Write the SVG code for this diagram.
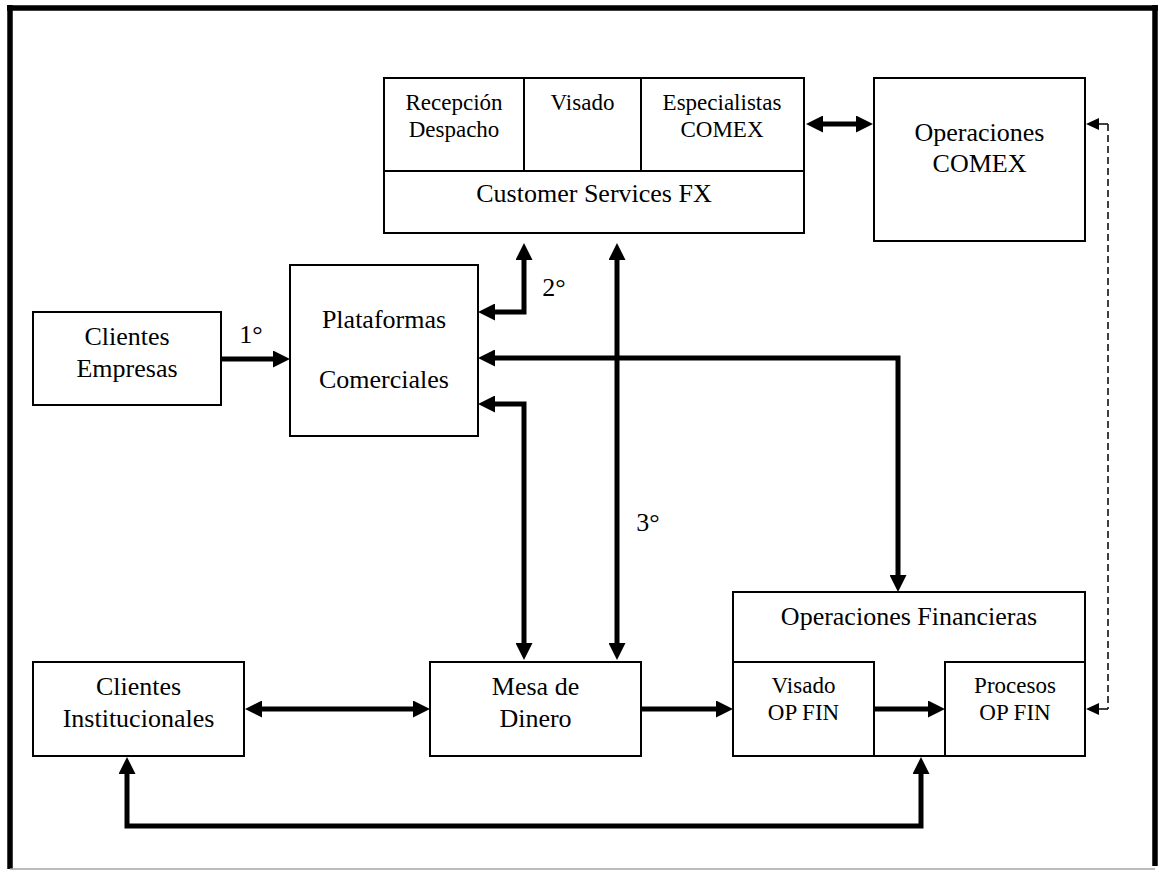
<svg xmlns="http://www.w3.org/2000/svg" width="1164" height="870" viewBox="0 0 1164 870">
<style>
.box{fill:#fff;stroke:#000;stroke-width:2}
.div{fill:none;stroke:#000;stroke-width:2}
.t{font-family:"Liberation Serif","Times New Roman",serif;fill:#000;text-anchor:middle}
.f26{font-size:26px}
.f23{font-size:23px}
.c{fill:none;stroke:#000;stroke-width:5;stroke-linejoin:miter}
.cb{stroke-width:5}
.d{fill:none;stroke:#000;stroke-width:1.5}
</style>
<defs>
<marker id="ah" viewBox="0 0 17 17" refX="0" refY="8.5" markerWidth="17" markerHeight="17" markerUnits="userSpaceOnUse" orient="auto-start-reverse">
<path d="M0,0 L17,8.5 L0,17 z" fill="#000"/>
</marker>
<marker id="sh" viewBox="0 0 13 12" refX="0" refY="6" markerWidth="13" markerHeight="12" markerUnits="userSpaceOnUse" orient="auto-start-reverse">
<path d="M0,0 L13,6 L0,12 z" fill="#000"/>
</marker>
</defs>
<rect x="0" y="0" width="1164" height="870" fill="#fff"/>
<g id="frame">
<line x1="7" y1="8" x2="1158" y2="8" stroke="#000" stroke-width="5.5"/>
<line x1="10" y1="5" x2="10" y2="869" stroke="#000" stroke-width="5.5"/>
<line x1="1155" y1="5" x2="1155" y2="866" stroke="#000" stroke-width="5.5"/>
<line x1="10" y1="869" x2="1155" y2="869" stroke="#a6a6a6" stroke-width="1.5"/>
</g>
<g id="customer-services">
<rect class="box" x="384" y="78" width="420" height="155"/>
<line class="div" x1="384" y1="171" x2="804" y2="171"/>
<line class="div" x1="524" y1="78" x2="524" y2="171"/>
<line class="div" x1="641" y1="78" x2="641" y2="171"/>
<text class="t f23" x="454" y="110">Recepción</text>
<text class="t f23" x="454" y="137">Despacho</text>
<text class="t f23" x="582.5" y="110">Visado</text>
<text class="t f23" x="722" y="110">Especialistas</text>
<text class="t f23" x="722" y="137">COMEX</text>
<text class="t f26" x="594" y="202">Customer Services FX</text>
</g>
<g id="operaciones-comex">
<rect class="box" x="874" y="78" width="211" height="163"/>
<text class="t f26" x="979.5" y="141">Operaciones</text>
<text class="t f26" x="979.5" y="172">COMEX</text>
</g>
<g id="clientes-empresas">
<rect class="box" x="33" y="312" width="188" height="93"/>
<text class="t f26" x="127" y="345">Clientes</text>
<text class="t f26" x="127" y="377">Empresas</text>
</g>
<g id="plataformas">
<rect class="box" x="290" y="265" width="188" height="171"/>
<text class="t f26" x="384" y="328">Plataformas</text>
<text class="t f26" x="384" y="388">Comerciales</text>
</g>
<g id="clientes-institucionales">
<rect class="box" x="33" y="662" width="211" height="94"/>
<text class="t f26" x="138.5" y="695">Clientes</text>
<text class="t f26" x="138.5" y="727">Institucionales</text>
</g>
<g id="mesa-de-dinero">
<rect class="box" x="430" y="662" width="211" height="94"/>
<text class="t f26" x="535.5" y="695">Mesa de</text>
<text class="t f26" x="535.5" y="727">Dinero</text>
</g>
<g id="operaciones-financieras">
<rect class="box" x="733" y="592" width="352" height="164"/>
<text class="t f26" x="909" y="625">Operaciones Financieras</text>
<g id="visado-op-fin">
<rect class="box" x="733" y="662" width="141" height="94"/>
<text class="t f23" x="803.5" y="693">Visado</text>
<text class="t f23" x="803.5" y="720">OP FIN</text>
</g>
<g id="procesos-op-fin">
<rect class="box" x="945" y="662" width="140" height="94"/>
<text class="t f23" x="1015" y="693">Procesos</text>
<text class="t f23" x="1015" y="720">OP FIN</text>
</g>
</g>
<g id="connectors">
<path class="c" d="M221,359 L273,359" marker-end="url(#ah)"/>
<path class="c" d="M495,312 L524,312 L524,260" marker-start="url(#ah)" marker-end="url(#ah)"/>
<path class="c" d="M617,260 L617,643" marker-start="url(#ah)" marker-end="url(#ah)"/>
<path class="c" d="M495,358 L898,358 L898,575" marker-start="url(#ah)" marker-end="url(#ah)"/>
<path class="c" d="M495,404 L524,404 L524,643" marker-start="url(#ah)" marker-end="url(#ah)"/>
<path class="c" d="M823,124 L856,124" marker-start="url(#ah)" marker-end="url(#ah)"/>
<path class="c" d="M262,709 L413,709" marker-start="url(#ah)" marker-end="url(#ah)"/>
<path class="c" d="M641,709 L716,709" marker-end="url(#ah)"/>
<path class="c" d="M875,709 L928,709" marker-end="url(#ah)"/>
<path class="c" d="M127,774 L127,826 L921,826 L921,774" marker-start="url(#ah)" marker-end="url(#ah)"/>
<path class="d" d="M1108,124 L1099,124" marker-end="url(#sh)"/>
<path class="d" d="M1108,709 L1099,709" marker-end="url(#sh)"/>
<path class="d" d="M1108,124 L1108,709" stroke-dasharray="7,4"/>
<text class="t f26" x="251" y="343">1°</text>
<text class="t f26" x="554" y="296">2°</text>
<text class="t f26" x="648" y="531">3°</text>
</g>
</svg>
